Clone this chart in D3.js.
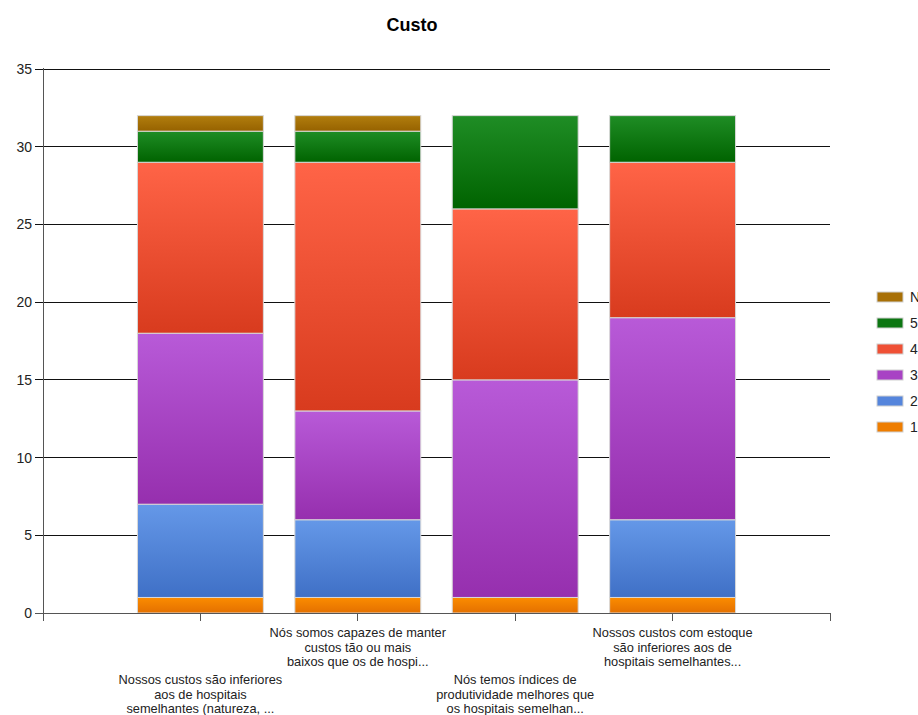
<!DOCTYPE html>
<html>
<head>
<meta charset="utf-8">
<script src="https://cdn.jsdelivr.net/npm/d3@7"></script>
<style>
  html, body { margin: 0; padding: 0; background: #fff; overflow: hidden; }
  text { font-family: Arial, "Liberation Sans", sans-serif; }
</style>
</head>
<body>
<script>
const categories = [
  ['Nossos custos são inferiores', 'aos de hospitais', 'semelhantes (natureza, ...'],
  ['Nós somos capazes de manter', 'custos tão ou mais', 'baixos que os de hospi...'],
  ['Nós temos índices de', 'produtividade melhores que', 'os hospitais semelhan...'],
  ['Nossos custos com estoque', 'são inferiores aos de', 'hospitais semelhantes...']
]
const seriesKeys = ['1', '2', '3', '4', '5', 'NA']
const v1 = [1, 1, 1, 1]
const v2 = [6, 5, 0, 5]
const v3 = [11, 7, 14, 13]
const v4 = [11, 16, 11, 10]
const v5 = [2, 2, 6, 3]
const vNA = [1, 1, 0, 0]
const yTicks = [0, 5, 10, 15, 20, 25, 30, 35]

const colors = {
  '1': ['#fb8c00', '#e47000'],
  '2': ['#6598e8', '#3f70c6'],
  '3': ['#b85ad8', '#962fae'],
  '4': ['#ff6447', '#d83b1e'],
  '5': ['#1f8d25', '#006300'],
  'NA': ['#b27e0e', '#966200']
}
const legendColors = {
  '1': '#ee7d00', '2': '#5585dc', '3': '#a842c4',
  '4': '#ef5035', '5': '#0c7612', 'NA': '#a87007'
}

const rows = categories.map((c, i) => ({
  idx: i, '1': v1[i], '2': v2[i], '3': v3[i], '4': v4[i], '5': v5[i], 'NA': vNA[i]
}))

const W = 918, H = 715
const plotLeft = 43, plotRight = 830, plotTop = 69, plotBottom = 613

const svg = d3.select('body').append('svg').attr('width', W).attr('height', H)

const defs = svg.append('defs')
seriesKeys.forEach((k, i) => {
  const g = defs.append('linearGradient').attr('id', 'g' + i)
    .attr('x1', 0).attr('y1', 0).attr('x2', 0).attr('y2', 1)
  g.append('stop').attr('offset', '0%').attr('stop-color', colors[k][0])
  g.append('stop').attr('offset', '100%').attr('stop-color', colors[k][1])
})

const x = d3.scaleLinear().domain([0, categories.length + 1]).range([plotLeft, plotRight])
const y = d3.scaleLinear().domain([0, 35]).range([plotBottom, plotTop])
const barW = (x(1) - x(0)) * 0.8

svg.append('text')
  .attr('x', 412).attr('y', 31)
  .attr('text-anchor', 'middle')
  .style('font-size', '18px').style('font-weight', 'bold')
  .text('Custo')

// grid lines
svg.append('g').selectAll('line').data(yTicks).enter().append('line')
  .attr('x1', plotLeft - 8).attr('x2', plotRight)
  .attr('y1', d => y(d)).attr('y2', d => y(d))
  .attr('stroke', d => d === 0 ? '#555' : '#111').attr('stroke-width', 1)
  .attr('shape-rendering', 'crispEdges')

svg.append('g').selectAll('text').data(yTicks).enter().append('text')
  .attr('x', 32).attr('y', d => y(d) + 5)
  .attr('text-anchor', 'end')
  .style('font-size', '14px').attr('fill', '#222')
  .text(d => d)

const stack = d3.stack().keys(seriesKeys)(rows)

svg.append('g').selectAll('g').data(stack).enter().append('g')
  .attr('fill', (d, i) => 'url(#g' + i + ')')
  .selectAll('rect').data(d => d.filter(p => p[1] - p[0] > 0)).enter().append('rect')
  .attr('x', d => x(d.data.idx + 1) - barW / 2)
  .attr('width', barW)
  .attr('y', d => y(d[1]))
  .attr('height', d => y(d[0]) - y(d[1]))
  .attr('stroke', '#d8d8d8').attr('stroke-width', 1)

// axes lines
svg.append('line').attr('x1', plotLeft).attr('x2', plotLeft).attr('y1', plotTop - 1).attr('y2', plotBottom + 8)
  .attr('stroke', '#555').attr('shape-rendering', 'crispEdges')
svg.append('line').attr('x1', plotLeft).attr('x2', plotRight).attr('y1', plotBottom).attr('y2', plotBottom)
  .attr('stroke', '#555').attr('shape-rendering', 'crispEdges')
svg.append('g').selectAll('line').data(d3.range(categories.length + 2)).enter().append('line')
  .attr('x1', d => x(d)).attr('x2', d => x(d))
  .attr('y1', plotBottom).attr('y2', plotBottom + 8)
  .attr('stroke', '#555').attr('shape-rendering', 'crispEdges')

// category labels, staggered
const lab = svg.append('g').selectAll('text').data(categories).enter().append('text')
  .attr('text-anchor', 'middle')
  .style('font-size', '12.8px').attr('fill', '#222')
lab.each(function(lines, i) {
  const y0 = i % 2 === 1 ? 637 : 684
  d3.select(this).selectAll('tspan').data(lines).enter().append('tspan')
    .attr('x', x(i + 1)).attr('y', (d, j) => y0 + j * 14.5)
    .text(d => d)
})

// legend
const leg = svg.append('g').selectAll('g').data(seriesKeys.slice().reverse()).enter().append('g')
  .attr('transform', (d, i) => 'translate(877,' + (292 + i * 26) + ')')
leg.append('rect').attr('width', 26).attr('height', 10)
  .attr('fill', d => legendColors[d]).attr('stroke', '#d0d0d0')
leg.append('text').attr('x', 33).attr('y', 10)
  .style('font-size', '14px').attr('fill', '#222')
  .text(d => d)
</script>
</body>
</html>
